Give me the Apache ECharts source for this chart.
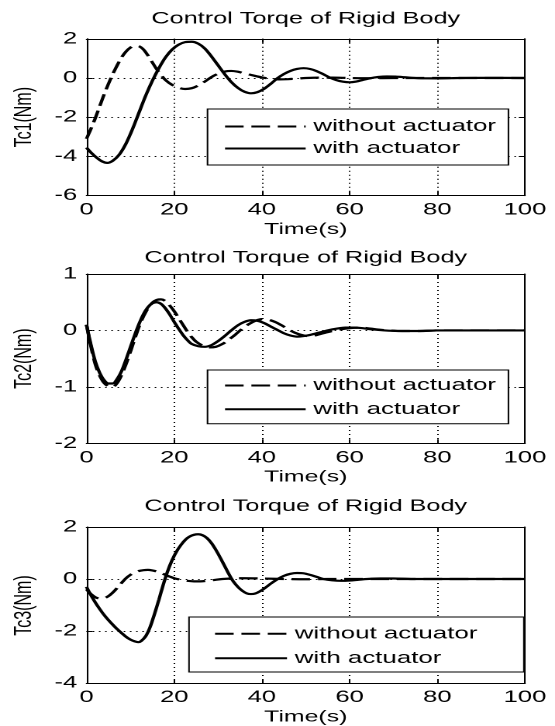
<!DOCTYPE html>
<html><head><meta charset="utf-8">
<script src="https://cdn.jsdelivr.net/npm/echarts@6/dist/echarts.min.js"></script>
<style>
html,body{margin:0;padding:0;background:#fff;overflow:hidden;}
#wrap{width:555px;height:726px;overflow:hidden;position:relative;}
#chart{width:358px;height:726px;transform:scaleX(1.5503);transform-origin:0 0;}
</style></head><body>
<div id="wrap"><div id="chart"></div></div>
<script>
// ---- text ----
const titles = ['Control Torqe of Rigid Body', 'Control Torque of Rigid Body', 'Control Torque of Rigid Body'];
const yNames = ['Tc1(Nm)', 'Tc2(Nm)', 'Tc3(Nm)'];
const xName = 'Time(s)';
const seriesNames = ['without actuator', 'with actuator'];
// ---- tick labels ----
const xTicks = [0, 20, 40, 60, 80, 100];
const yTicks1 = [-6, -4, -2, 0, 2];
const yTicks2 = [-2, -1, 0, 1];
const yTicks3 = [-4, -2, 0, 2];
// ---- data: plot 1 ----
const t1Without = [0,1,2,3,4,5,6,7,8,9,10,11,12,13,14,15,16,17,18,19.5,21,22.5,24,25.5,27,28.5,30,31.5,33,34.5,36,38,40,42,44,46,48,50,53,56,60,65,70,100];
const v1Without = [-3.1,-2.6,-2.05,-1.45,-0.85,-0.3,0.2,0.65,1.05,1.35,1.55,1.65,1.62,1.45,1.15,0.8,0.45,0.15,-0.1,-0.35,-0.5,-0.56,-0.52,-0.38,-0.18,0.05,0.22,0.33,0.36,0.32,0.24,0.13,0.03,-0.04,-0.07,-0.06,-0.03,0,0.02,0.02,0,-0.01,0,0];
const t1With = [0,1,2.5,3.5,4.7,6,7.5,9,10.5,12,13.5,15,16.5,18,19.5,21,22.5,24,25.5,27,28.5,30,31.5,33,34.5,36,37.5,39,40.5,42,43.5,45,46.5,48,49.5,51,52.5,54,55.5,57,58.5,60,61.5,63,64.5,66.5,68.5,70.5,72.5,75.5,80,85,90,100];
const v1With = [-3.55,-3.8,-4.1,-4.25,-4.33,-4.22,-3.9,-3.35,-2.6,-1.75,-0.9,-0.15,0.5,1.05,1.45,1.7,1.83,1.85,1.75,1.5,1.1,0.65,0.2,-0.2,-0.5,-0.7,-0.78,-0.72,-0.55,-0.3,-0.02,0.2,0.36,0.46,0.5,0.46,0.35,0.19,0.02,-0.11,-0.19,-0.22,-0.18,-0.1,-0.02,0.05,0.08,0.07,0.04,-0.01,-0.02,0,0.01,0];
// ---- data: plot 2 ----
const t2Without = [0,1,2,3,4,5,6,7,8,9,10,11,12,13,14,15,16,17,18,19,20,21,22,23,24,25,26.5,28,29.5,31,32.5,34,35.5,37,38.5,40,41.5,43,44.5,46,47.5,49,50.5,52,54,56,58,60,62,64,66,69,72,76,80,100];
const v2Without = [0.1,-0.28,-0.6,-0.8,-0.93,-0.99,-1.0,-0.93,-0.79,-0.6,-0.38,-0.15,0.07,0.25,0.39,0.49,0.54,0.55,0.52,0.44,0.34,0.22,0.1,-0.02,-0.12,-0.2,-0.27,-0.3,-0.29,-0.24,-0.16,-0.07,0.03,0.11,0.17,0.2,0.19,0.15,0.09,0.02,-0.04,-0.08,-0.1,-0.09,-0.05,-0.01,0.02,0.04,0.05,0.04,0.02,0,-0.01,-0.01,0,0];
const t2With = [0,1,2,3,4,5,6,7,8,9,10,11,12,13,14,15,16,17,18,19,20,21,22,23,24,25.5,27,28.5,30,31.5,33,34.5,36,37.5,39,40.5,42,43.5,45,46.5,48,49.5,51,53,55,57,59,61,63,65,68,71,75,80,100];
const v2With = [0.1,-0.25,-0.55,-0.75,-0.88,-0.94,-0.94,-0.86,-0.72,-0.52,-0.3,-0.08,0.12,0.29,0.41,0.48,0.5,0.47,0.39,0.28,0.15,0.03,-0.08,-0.17,-0.24,-0.28,-0.29,-0.26,-0.19,-0.1,0,0.09,0.15,0.18,0.17,0.13,0.07,0.01,-0.05,-0.09,-0.11,-0.1,-0.08,-0.04,0,0.03,0.05,0.05,0.04,0.02,0,-0.01,-0.01,0,0];
// ---- data: plot 3 ----
const t3Without = [0,1,2,3,4,5,6,7,8,9,10,11,12,13,14,15,16,17,18,19,20,21.5,23,24.5,26,27.5,29,31,33,36,40,45,50,55,100];
const v3Without = [-0.4,-0.58,-0.7,-0.75,-0.74,-0.66,-0.52,-0.34,-0.15,0.03,0.16,0.25,0.31,0.34,0.35,0.33,0.29,0.23,0.16,0.09,0.03,-0.03,-0.07,-0.09,-0.09,-0.07,-0.04,0,0.02,0.03,0.02,0,-0.01,0,0];
const t3With = [0,1,2,3,4,5,6,7,8,9,10,11,11.8,12.5,13.5,14.5,15.5,16.5,17.5,18.5,19.5,20.5,21.5,22.5,23.5,24.5,25.5,26.5,27.5,28.5,29.5,30.5,31.5,32.5,33.5,34.5,35.5,36.5,37.5,38.5,39.5,40.5,42,43.5,45,46.5,48,49.5,51,52.5,54,56,58,60,62,64,67,70,75,100];
const v3With = [-0.3,-0.62,-0.9,-1.15,-1.38,-1.58,-1.76,-1.93,-2.08,-2.22,-2.33,-2.4,-2.43,-2.38,-2.2,-1.85,-1.35,-0.8,-0.22,0.3,0.72,1.05,1.3,1.5,1.63,1.7,1.72,1.68,1.57,1.38,1.12,0.82,0.5,0.18,-0.1,-0.3,-0.45,-0.55,-0.58,-0.56,-0.48,-0.37,-0.18,-0.01,0.12,0.2,0.23,0.22,0.16,0.08,0,-0.05,-0.07,-0.06,-0.03,0,0.02,0.02,0,0];

const plots = [
  {title: titles[0], yName: yNames[0], yTicks: yTicks1, tW: t1Without, vW: v1Without, tA: t1With, vA: v1With},
  {title: titles[1], yName: yNames[1], yTicks: yTicks2, tW: t2Without, vW: v2Without, tA: t2With, vA: v2With},
  {title: titles[2], yName: yNames[2], yTicks: yTicks3, tW: t3Without, vW: v3Without, tA: t3With, vA: v3With}
];

// ---- layout (chart coords; chart is stretched horizontally by S) ----
const S = 1.5503;
const FONT = "'Liberation Sans', Arial, Helvetica, sans-serif";
const gridLeft = 86.5 / S, gridWidth = (525 - 86.5) / S;
const gridTops = [38.8, 274, 527];
const gridHeights = [156.8, 169.3, 157];
const titleCenters = [20, 259, 507.5];
const yNameX = 24 / S;
const legendLayout = [
  {left: 207.5 / S, top: 109, itemWidth: 52, itemGap: 5, padding: [9, 8, 8, 10.3]},
  {left: 207.5 / S, top: 370, itemWidth: 52, itemGap: 6.7, padding: [7, 8, 6, 10.3]},
  {left: 189 / S, top: 617, itemWidth: 46.4, itemGap: 7.4, padding: [8.3, 30, 5.3, 15.8]}
];

const pair = (t, v) => t.map((x, i) => [x, v[i]]);
const grid = [], xAxis = [], yAxis = [], series = [], title = [], legend = [], graphic = [];

plots.forEach((p, i) => {
  grid.push({left: gridLeft, width: gridWidth, top: gridTops[i], height: gridHeights[i], containLabel: false});
  const yMin = p.yTicks[0], yMax = p.yTicks[p.yTicks.length - 1];
  const yInt = p.yTicks[1] - p.yTicks[0];
  const xMin = xTicks[0], xMax = xTicks[xTicks.length - 1], xInt = xTicks[1] - xTicks[0];
  const lineBlack = {show: true, onZero: false, lineStyle: {color: '#000', width: 1}};
  const tickIn = {show: true, inside: true, length: 4, lineStyle: {color: '#000', width: 1}};
  const dotted = {show: true, lineStyle: {color: '#000', width: 1, type: [1, 3]}};
  xAxis.push({
    type: 'value', gridIndex: i, position: 'bottom', min: xMin, max: xMax, interval: xInt,
    axisLine: lineBlack, axisTick: tickIn, splitLine: dotted,
    axisLabel: {color: '#000', fontSize: 16.5, fontFamily: FONT, margin: 6},
    name: xName, nameLocation: 'middle', nameGap: 26,
    nameTextStyle: {color: '#000', fontSize: 16, fontFamily: FONT}
  });
  xAxis.push({
    type: 'value', gridIndex: i, position: 'top', min: xMin, max: xMax, interval: xInt,
    axisLine: lineBlack, axisTick: tickIn, splitLine: {show: false}, axisLabel: {show: false}
  });
  yAxis.push({
    type: 'value', gridIndex: i, position: 'left', min: yMin, max: yMax, interval: yInt,
    axisLine: lineBlack, axisTick: tickIn, splitLine: dotted,
    axisLabel: {color: '#000', fontSize: 16.5, fontFamily: FONT, margin: 6}
  });
  yAxis.push({
    type: 'value', gridIndex: i, position: 'right', min: yMin, max: yMax, interval: yInt,
    axisLine: lineBlack, axisTick: tickIn, splitLine: {show: false}, axisLabel: {show: false}
  });
  // y-axis title, placed beside the grid
  graphic.push({
    type: 'text', x: yNameX, y: gridTops[i] + gridHeights[i] / 2, rotation: Math.PI / 2,
    style: {text: p.yName, fill: '#000', font: '16px ' + FONT, align: 'center', verticalAlign: 'middle'}
  });
  title.push({
    text: p.title, left: (86.5 + 525) / 2 / S, top: titleCenters[i] - 9, textAlign: 'center', padding: 0,
    textStyle: {color: '#000', fontSize: 16.3, fontWeight: 'normal', fontFamily: FONT}
  });
  const L = legendLayout[i];
  legend.push({
    orient: 'vertical', left: L.left, top: L.top,
    data: seriesNames, itemWidth: L.itemWidth, itemHeight: 14, itemGap: L.itemGap,
    padding: L.padding, borderColor: '#000', borderWidth: 1, borderRadius: 0, backgroundColor: '#fff',
    textStyle: {color: '#000', fontSize: 16.7, fontFamily: FONT, lineHeight: 16},
    itemStyle: {opacity: 0},
    lineStyle: {width: 2},
    selectedMode: false
  });
  series.push({
    name: seriesNames[0], type: 'line', xAxisIndex: 2 * i, yAxisIndex: 2 * i,
    data: pair(p.tW, p.vW), symbol: 'none', smooth: 0.3, animation: false,
    lineStyle: {color: '#000', width: 2.2, type: [12, 5]}, itemStyle: {color: '#000'}, z: 3
  });
  series.push({
    name: seriesNames[1], type: 'line', xAxisIndex: 2 * i, yAxisIndex: 2 * i,
    data: pair(p.tA, p.vA), symbol: 'none', smooth: 0.3, animation: false,
    lineStyle: {color: '#000', width: 2.2, type: 'solid'}, itemStyle: {color: '#000'}, z: 4
  });
});

const chart = echarts.init(document.getElementById('chart'), null, {renderer: 'canvas', devicePixelRatio: 2});
chart.setOption({animation: false, backgroundColor: '#fff', title, legend, grid, xAxis, yAxis, series, graphic});
</script>
</body></html>
